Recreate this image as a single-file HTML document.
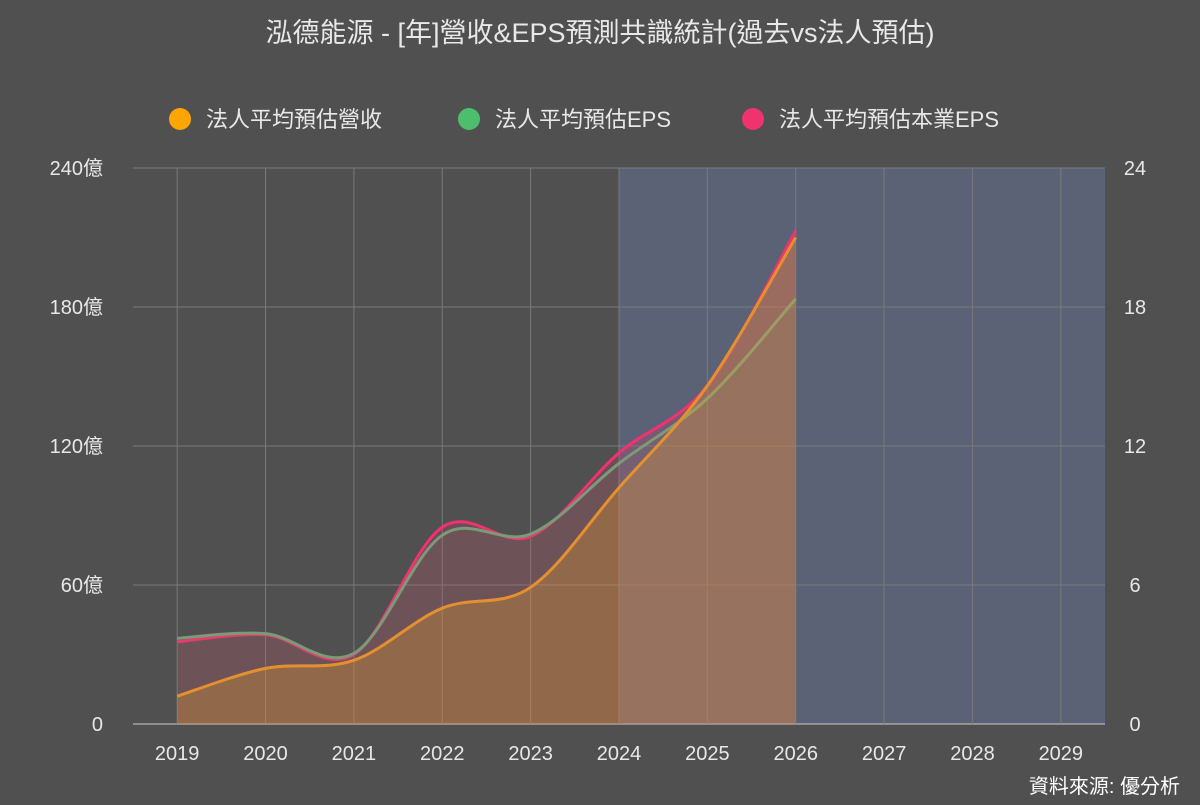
<!DOCTYPE html>
<html><head><meta charset="utf-8">
<style>
body{margin:0;background:#505050;font-family:"Liberation Sans","Noto Sans CJK TC",sans-serif;}
svg text{font-family:"Liberation Sans","Noto Sans CJK TC",sans-serif;}
</style></head>
<body>
<svg id="chart" width="1200" height="800" viewBox="0 0 1200 800" xmlns="http://www.w3.org/2000/svg">
<rect width="1200" height="800" fill="#505050"/>
<text x="600" y="42" fill="#e8e8e8" font-size="27" text-anchor="middle">泓德能源 - [年]營收&amp;EPS預測共識統計(過去vs法人預估)</text>
<g>
<g><circle cx="180" cy="119" r="11" fill="#ffa500"/><text x="206" y="127" fill="#e8e8e8" font-size="22">法人平均預估營收</text></g>
<g><circle cx="469" cy="119" r="11" fill="#4cbe6c"/><text x="495" y="127" fill="#e8e8e8" font-size="22">法人平均預估EPS</text></g>
<g><circle cx="753" cy="119" r="11" fill="#f0336e"/><text x="779" y="127" fill="#e8e8e8" font-size="22">法人平均預估本業EPS</text></g>
</g>
<g id="plot"></g>
<text x="1180" y="793" fill="#ffffff" font-size="20" text-anchor="end">資料來源: 優分析</text>
</svg>
<script>
const years=["2019","2020","2021","2022","2023","2024","2025","2026","2027","2028","2029"];
const revenue=[12,24,27.5,50,59,102,146,210];
const eps=[3.7,3.9,3.05,8.15,8.2,11.25,14.05,18.35];
const coreEps=[3.55,3.85,3.0,8.5,8.1,11.7,14.6,21.3];
const leftTicks=[0,60,120,180,240];
const rightTicks=[0,6,12,18,24];
const forecastStart=5;

const X0=133,X1=1105,Y0=724,Y1=168;
const bw=(X1-X0)/years.length;
const x=i=>X0+bw*(i+0.5);
const yL=v=>Y0-(v/240)*(Y0-Y1);
const yR=v=>Y0-(v/24)*(Y0-Y1);
const g=document.getElementById('plot');
const NS="http://www.w3.org/2000/svg";
function mk(t,a){const e=document.createElementNS(NS,t);for(const k in a)e.setAttribute(k,a[k]);g.appendChild(e);return e;}

const band=mk('rect',{x:x(forecastStart),y:Y1,width:X1-x(forecastStart),height:Y0-Y1,fill:'#5b6275'});



leftTicks.forEach((v,i)=>{
 const l=mk('line',{x1:X0,x2:X1,y1:yL(v),y2:yL(v),stroke:i==0?'#cccccc':'#7a7a7a','stroke-width':1});
 
 
 const t=mk('text',{x:103,y:yL(v)+7,fill:'#e8e8e8','font-size':20,'text-anchor':'end'});
 t.textContent=v+(v?'億':'');
 
 
});
rightTicks.forEach((v)=>{
 const t=mk('text',{x:1135,y:yR(v)+7,fill:'#e8e8e8','font-size':20,'text-anchor':'middle'});
 t.textContent=v;
 
 
});
years.forEach((yr,i)=>{
 const l=mk('line',{x1:x(i),x2:x(i),y1:Y1,y2:Y0,stroke:'#7a7a7a','stroke-width':1});
 
 
 const t=mk('text',{x:x(i),y:760,fill:'#e8e8e8','font-size':20,'text-anchor':'middle'});
 t.textContent=yr;
 
 
});

function curve(pts){
 let d='M'+pts[0][0]+','+pts[0][1];
 for(let i=0;i<pts.length-1;i++){
  const p0=pts[Math.max(0,i-1)],p1=pts[i],p2=pts[i+1],p3=pts[Math.min(pts.length-1,i+2)];
  const k=6;
  d+=' C'+(p1[0]+(p2[0]-p0[0])/k)+','+(p1[1]+(p2[1]-p0[1])/k)+' '+(p2[0]-(p3[0]-p1[0])/k)+','+(p2[1]-(p3[1]-p1[1])/k)+' '+p2[0]+','+p2[1];
 }
 return d;
}
function series(vals,yf,color,fill,op,name){
 const pts=vals.map((v,i)=>[x(i),yf(v)]);
 const c=curve(pts);
 const a=mk('path',{d:c+' L'+x(vals.length-1)+','+Y0+' L'+x(0)+','+Y0+' Z',fill:fill,'fill-opacity':op});
 
 
 const l=mk('path',{d:c,fill:'none',stroke:color,'stroke-width':3});
 
 
}
series(coreEps,yR,'#f0336e','#f0336e',0.2,'core-eps');
series(eps,yR,'#7a9a78','#4cbe6c',0.08,'eps');
series(revenue,yL,'#e5902f','#f5a030',0.28,'revenue');
</script>
</body></html>
